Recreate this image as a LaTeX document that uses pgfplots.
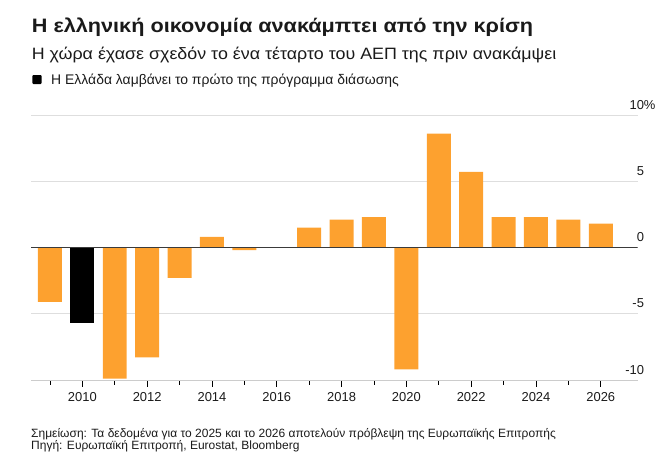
\documentclass[border=0pt]{standalone}
\usepackage{pgfplots}
\pgfplotsset{compat=1.18}
\usepackage{fontspec}
\setmainfont{Liberation Sans}
\newfontfamily\titlefont[FakeStretch=1.115]{Liberation Sans}
\newfontfamily\subtitlefont[FakeStretch=1.086]{Liberation Sans}

\definecolor{barorange}{HTML}{FDA12F}
\definecolor{gridgray}{HTML}{DEDEDE}
\definecolor{axisgray}{HTML}{CCCCCC}
\definecolor{zeroline}{HTML}{3A3A3A}
\definecolor{textdark}{HTML}{1A1A1A}

% Annual real GDP growth of Greece, %
\pgfplotstableread{
year growth
2009 -4.1
2011 -9.9
2012 -8.3
2013 -2.3
2014 0.8
2015 -0.2
2016 0.0
2017 1.5
2018 2.1
2019 2.3
2020 -9.2
2021 8.6
2022 5.7
2023 2.3
2024 2.3
2025 2.1
2026 1.8
}\growthtable
% First bailout year
\pgfplotstableread{
year growth
2010 -5.7
}\bailouttable

\begin{document}
\begin{tikzpicture}
\useasboundingbox (0,0) rectangle (669bp,-461bp);

\node[anchor=base west, inner sep=0, text=textdark] at (31.7bp,-32.3bp)
  {\titlefont\fontsize{19.5}{21}\selectfont\bfseries Η ελληνική οικονομία ανακάμπτει από την κρίση};
\node[anchor=base west, inner sep=0, text=textdark] at (31.7bp,-59.3bp)
  {\subtitlefont\fontsize{16.5}{18}\selectfont Η χώρα έχασε σχεδόν το ένα τέταρτο του ΑΕΠ της πριν ανακάμψει};
\fill[black, rounded corners=1bp] (32.3bp,-75bp) rectangle (41.7bp,-84bp);
\node[anchor=base west, inner sep=0, text=textdark] at (51bp,-84bp)
  {\fontsize{14}{16}\selectfont Η Ελλάδα λαμβάνει το πρώτο της πρόγραμμα διάσωσης};

\begin{axis}[
  at={(31bp,-380bp)}, anchor=south west,
  scale only axis, width=606.7bp, height=265bp,
  xmin=2008.415, xmax=2027.14, ymin=-10, ymax=10,
  axis x line*=bottom, axis y line*=right,
  y axis line style={draw=none},
  x axis line style={axisgray, line width=0.9bp},
  xtick={2010,2012,2014,2016,2018,2020,2022,2024,2026},
  xticklabels={2010,2012,2014,2016,2018,2020,2022,2024,2026},
  minor xtick={2009,2011,2013,2015,2017,2019,2021,2023,2025},
  ytick={-10,-5,0,5,10},
  yticklabels={-10,-5,0,5,10\rlap{\%}},
  tick align=outside,
  major tick length=6.5bp, minor tick length=4.5bp,
  xtick style={black, line width=0.8bp},
  every minor tick/.append style={axisgray, line width=0.8bp},
  ytick style={draw=none},
  xticklabel style={anchor=base, inner sep=0, yshift=-14.5bp,
    font=\fontsize{13}{13}\selectfont, text=textdark},
  yticklabel style={anchor=base east, inner sep=0, yshift=6bp,
    font=\fontsize{13}{13}\selectfont, text=textdark},
  ymajorgrids, grid style={gridgray, line width=0.9bp},
  ybar, bar width=0.74, bar shift=0pt,
]
\addplot[fill=barorange, draw=none] table[x=year, y=growth] {\growthtable};
\addplot[fill=black, draw=none] table[x=year, y=growth] {\bailouttable};
\draw[zeroline, line width=1bp] (rel axis cs:0,0.5) -- (rel axis cs:1,0.5);
\end{axis}

\node[anchor=base west, inner sep=0, text=textdark] at (31bp,-437.3bp)
  {\fontsize{12.05}{13}\selectfont Σημείωση: Τα δεδομένα για το 2025 και το 2026 αποτελούν πρόβλεψη της Ευρωπαϊκής Επιτροπής};
\node[anchor=base west, inner sep=0, text=textdark] at (31bp,-449bp)
  {\fontsize{12.05}{13}\selectfont Πηγή: Ευρωπαϊκή Επιτροπή, Eurostat, Bloomberg};
\end{tikzpicture}
\end{document}
